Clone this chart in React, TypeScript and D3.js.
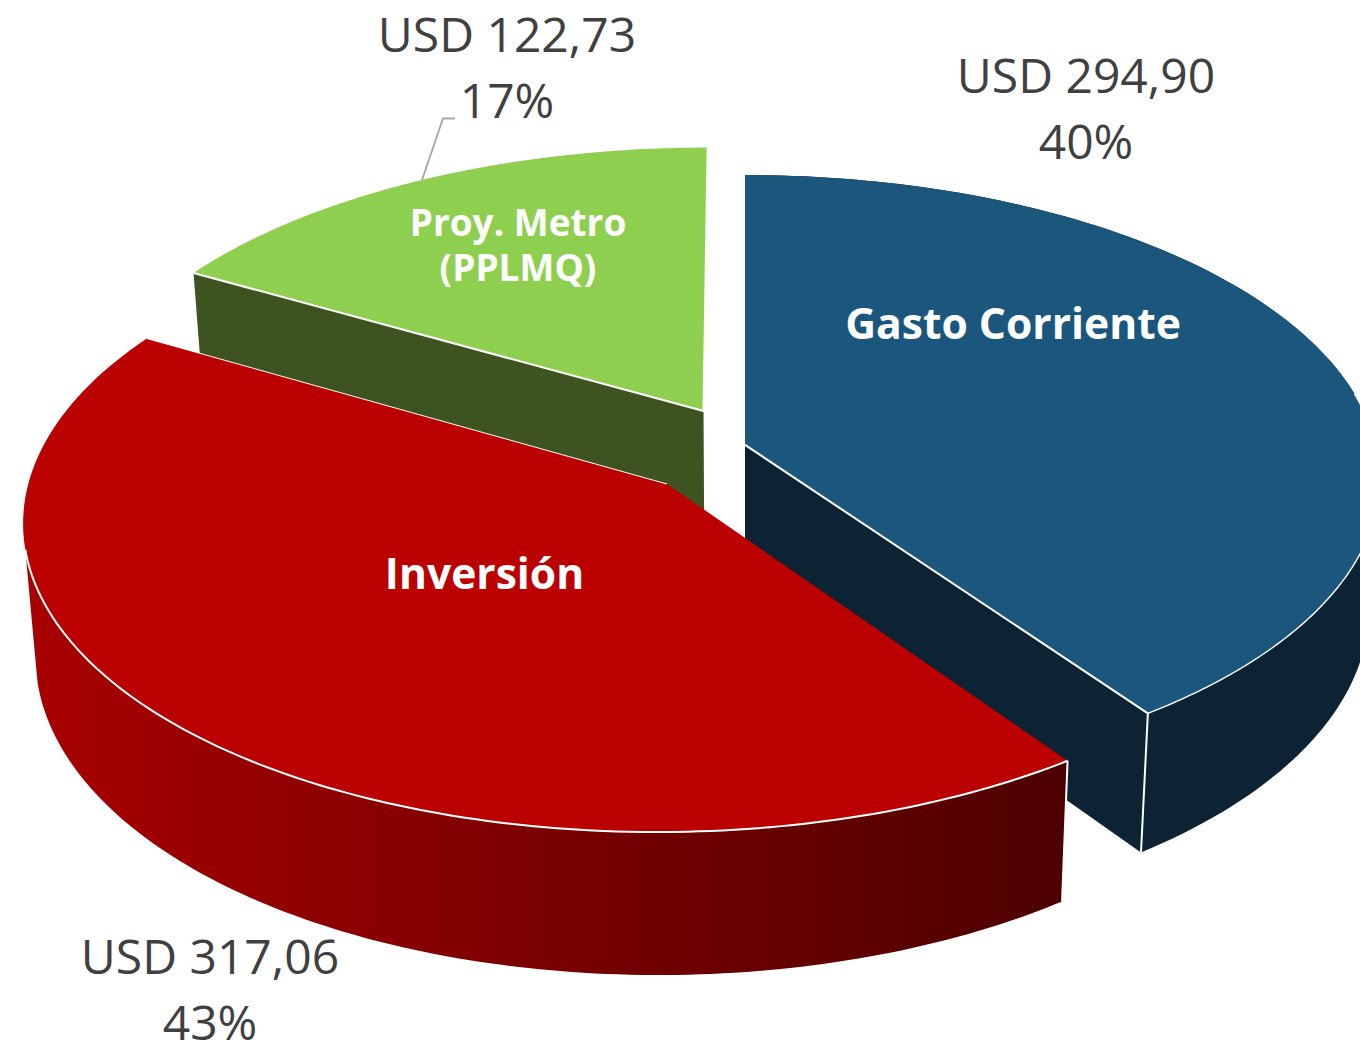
import React from "react";
import * as d3 from "d3";

const categories = ["Gasto Corriente", "Inversión", "Proy. Metro (PPLMQ)"];
const amounts = [294.9, 317.06, 122.73];
const valueLabels = ["USD 294,90", "USD 317,06", "USD 122,73"];
const percentLabels = ["40%", "43%", "17%"];

const W = 1360, H = 1047;
// perspective projection of the pie plane
const XC = 745, Y0 = 484, RX = 640, A = 308.7, B = 0.113, LOWER = 0.983;
const offsets: [number, number][] = [[0, -0.1285], [-0.1219, 0], [-0.0666, -0.243]];
const radiusScale = [1, 0.998, 1];
const topFill = ["#1b577c", "#bb0000", "#8fcf50"];
const wallFill = ["#0b2333", "url(#redWall)", "#3e5420"];

type P = [number, number];
const depthAt = (Y: number) => 130.3 + 12.7 * Y;
const project = (X: number, Y: number, low = false): P => {
  const d = 1 - B * Y;
  const k = low ? LOWER : 1;
  return [XC + (k * RX * X) / d, Y0 + (A * Y) / d + (low ? depthAt(Y) : 0)];
};
const pt = (i: number, a: number, low = false): P => {
  const [ox, oy] = offsets[i];
  const r = radiusScale[i];
  return project(ox + r * Math.sin(a), oy - Math.cos(a), low);
};
const apex = (i: number, low = false): P => project(offsets[i][0], offsets[i][1], low);
const arc = (i: number, a0: number, a1: number, low = false): P[] =>
  d3.range(0, 121).map((k) => pt(i, a0 + ((a1 - a0) * k) / 120, low));
const line = d3.line<P>();
const closed = (p: P[]) => line(p) + "Z";

const arcs = d3.pie<number>().sort(null)(amounts);
const DEG = Math.PI / 180;

function Slice({ i }: { i: number }) {
  const { startAngle: s, endAngle: e } = arcs[i];
  const top = [apex(i), ...arc(i, s, e)];
  const white = { fill: "none", stroke: "#fff", strokeWidth: 2, strokeLinejoin: "round" as const };
  if (i === 2) {
    return (
      <g>
        <path d={closed([apex(i), pt(i, s), pt(i, s, true), apex(i, true)])} fill={wallFill[i]} />
        <path d={closed(top)} fill={topFill[i]} />
        <path d={line([pt(i, s), apex(i), pt(i, e)])!} {...white} />
      </g>
    );
  }
  if (i === 0) {
    const wall = [...arc(i, s, e), ...arc(i, s, e, true).reverse()];
    return (
      <g>
        <path d={closed(wall)} fill={wallFill[i]} />
        <path d={closed([apex(i), pt(i, e), pt(i, e, true), apex(i, true)])} fill={wallFill[i]} />
        <path d={closed(top)} fill={topFill[i]} />
        <path d={line([apex(i), pt(i, e), pt(i, e, true)])!} {...white} />
        <path d={line(arc(i, 80 * DEG, e))!} {...white} strokeWidth={1.4} />
      </g>
    );
  }
  const sil = 258 * DEG;
  const wall = [...arc(i, s, sil), ...arc(i, s, sil, true).reverse()];
  return (
    <g>
      <path d={closed(wall)} fill={wallFill[i]} />
      <path d={closed(top)} fill={topFill[i]} />
      <path d={line(arc(i, s, sil))!} {...white} />
      <path d={line([pt(i, e), apex(i)])!} {...white} strokeWidth={1} />
      <path d={line([pt(i, s, true), pt(i, s)])!} {...white} />
    </g>
  );
}

const FONT = "'Open Sans', sans-serif";
const valStyle = { fontFamily: FONT, fontSize: 48, fill: "#404040", textAnchor: "middle" as const };
const nameStyle = { fontFamily: FONT, fontWeight: 700, fill: "#fff", textAnchor: "middle" as const };

export default function App() {
  return (
    <svg
      width={W}
      height={H}
      viewBox={`0 0 ${W} ${H}`}
      style={{ position: "absolute", left: 0, top: 0, display: "block", overflow: "hidden" }}
    >
      <defs>
        <linearGradient id="redWall" gradientUnits="userSpaceOnUse" x1={30} y1={0} x2={1060} y2={0}>
          <stop offset="0" stopColor="#a80000" />
          <stop offset="1" stopColor="#4d0000" />
        </linearGradient>
      </defs>
      <rect width={W} height={H} fill="#fff" />
      <Slice i={2} />
      <Slice i={0} />
      <Slice i={1} />
      <path d="M455,118.5H443L422,180" fill="none" stroke="#a6a6a6" strokeWidth={1.8} />

      <text x={1086} y={93} {...valStyle}>{valueLabels[0]}</text>
      <text x={1086} y={159} {...valStyle}>{percentLabels[0]}</text>
      <text x={210} y={974} {...valStyle}>{valueLabels[1]}</text>
      <text x={210} y={1040} {...valStyle}>{percentLabels[1]}</text>
      <text x={507} y={52} {...valStyle}>{valueLabels[2]}</text>
      <text x={507} y={118} {...valStyle}>{percentLabels[2]}</text>

      <text x={1013} y={339} fontSize={42.6} {...nameStyle}>{categories[0]}</text>
      <text x={484.5} y={589} fontSize={42.6} {...nameStyle}>{categories[1]}</text>
      <text x={518} y={236} fontSize={37} {...nameStyle}>{categories[2].split(" (")[0]}</text>
      <text x={518} y={281} fontSize={37} {...nameStyle}>{"(" + categories[2].split(" (")[1]}</text>
    </svg>
  );
}
